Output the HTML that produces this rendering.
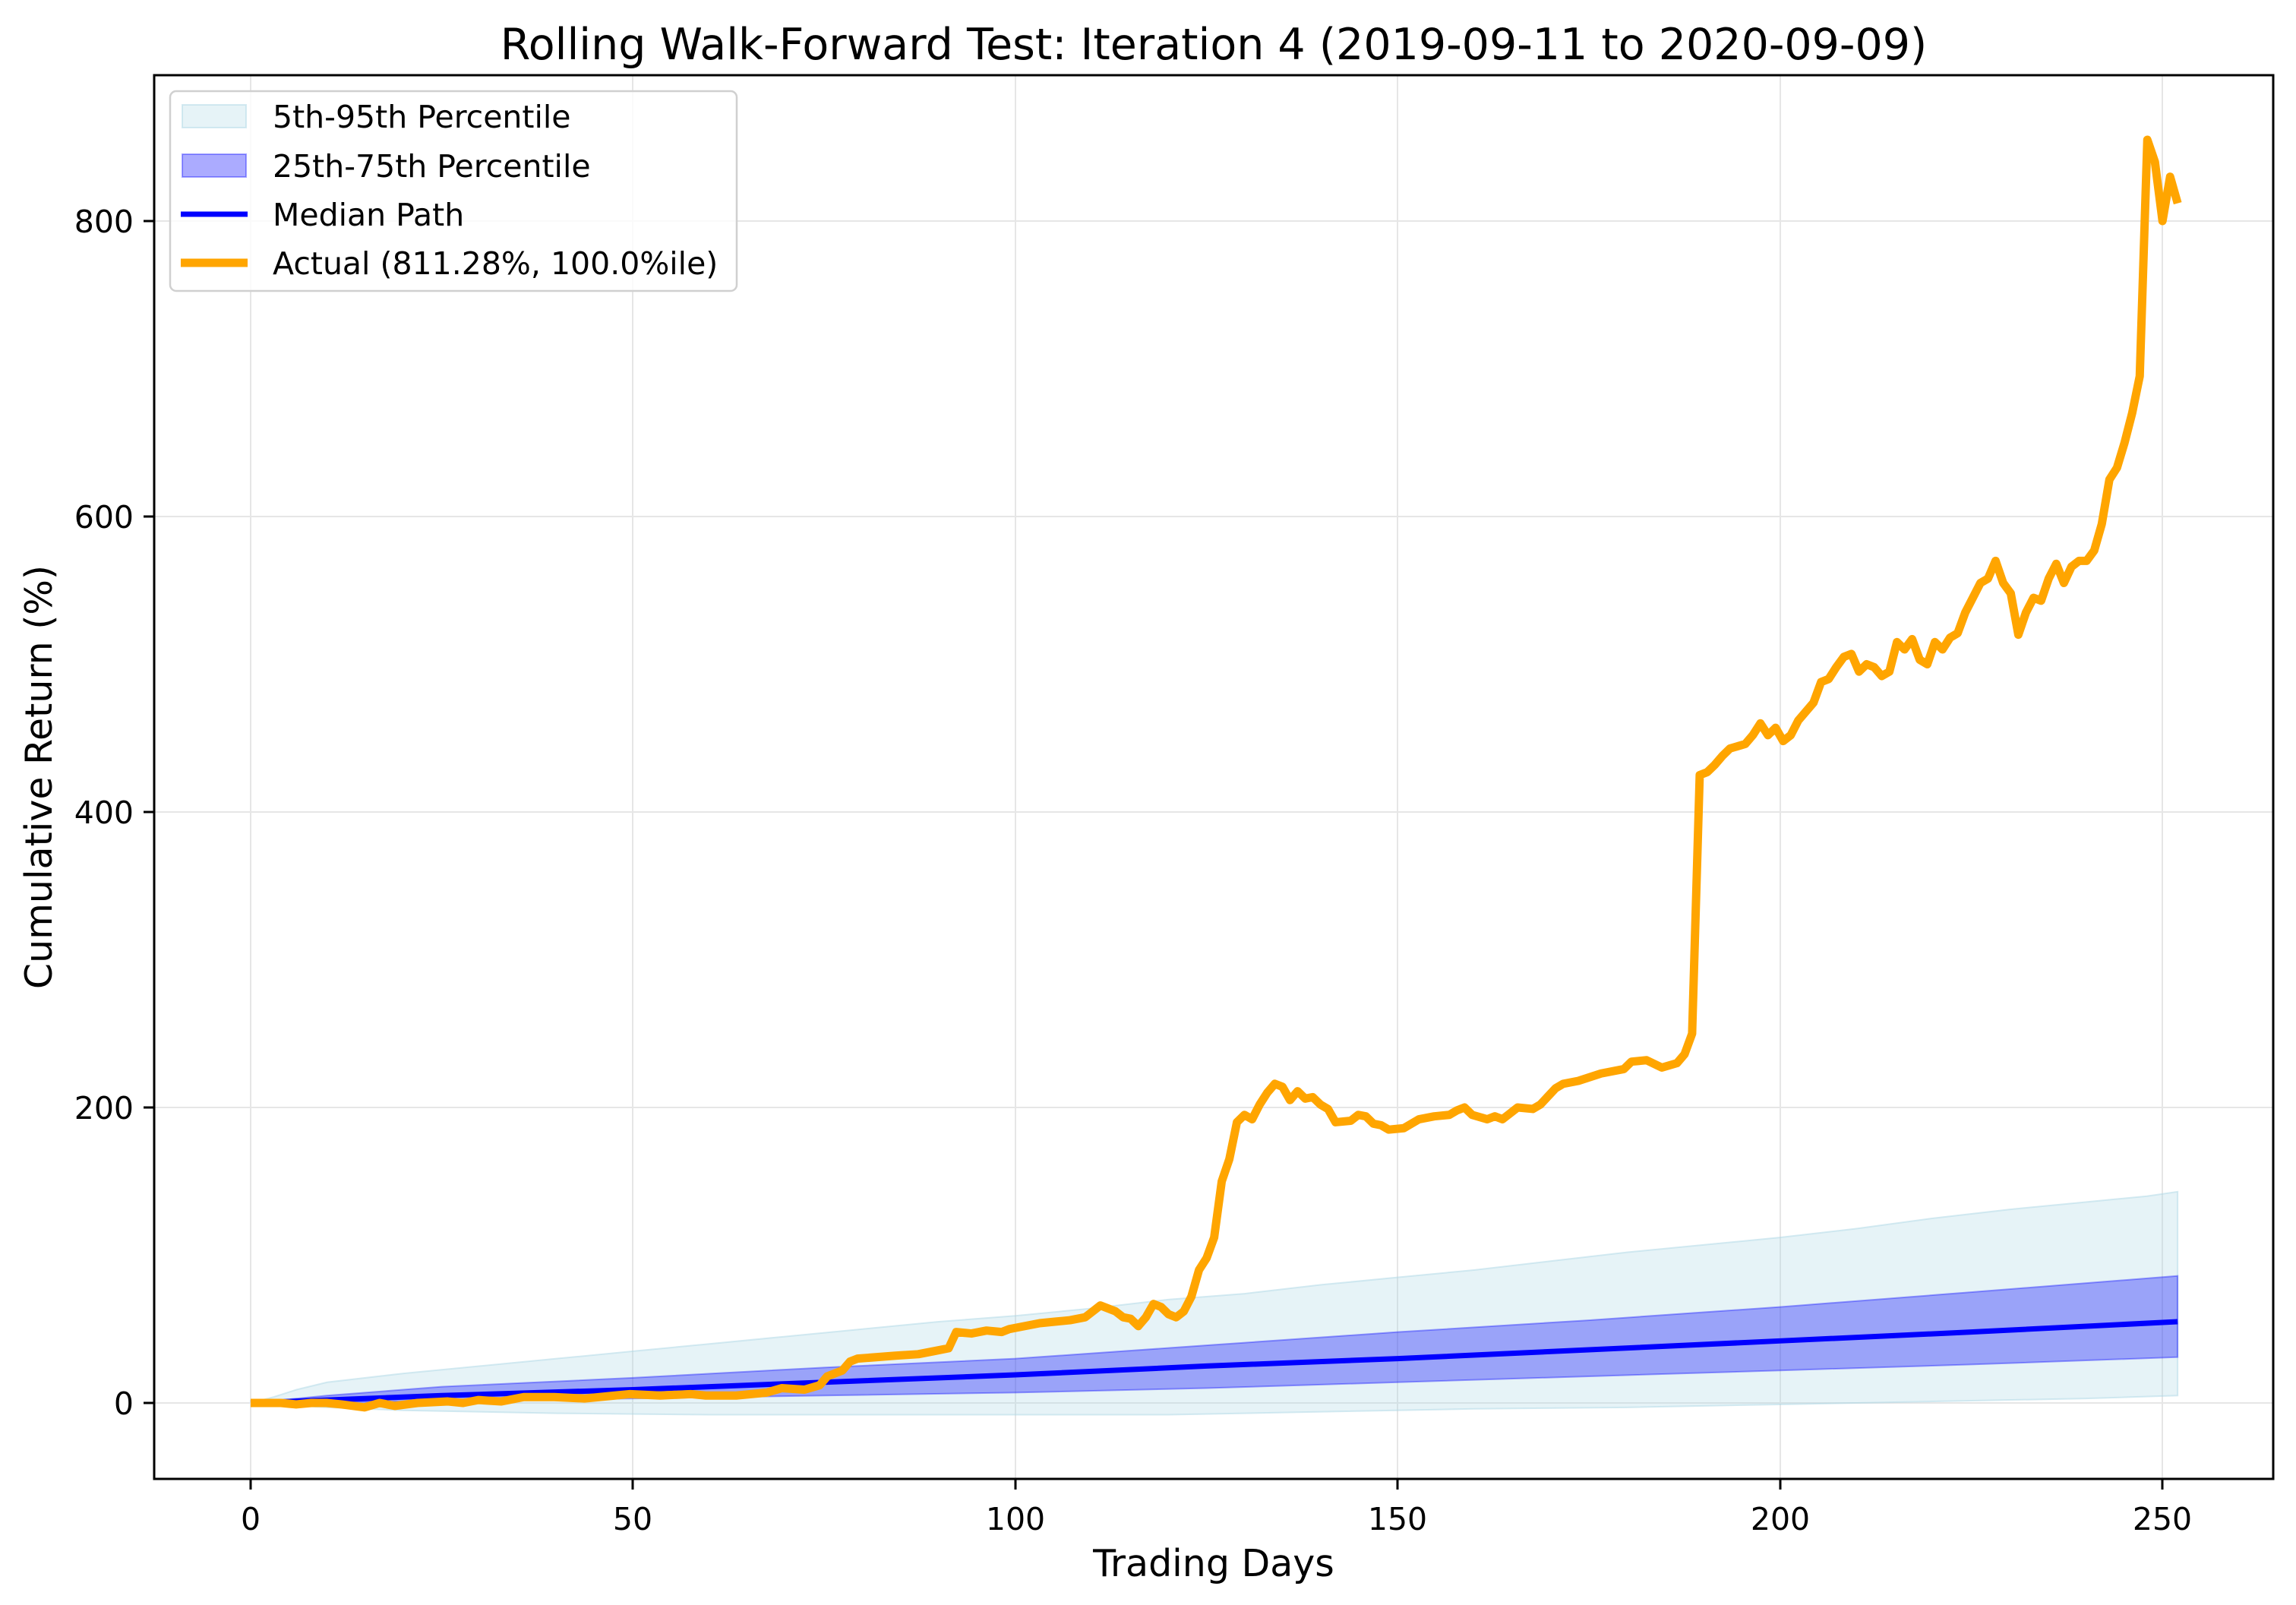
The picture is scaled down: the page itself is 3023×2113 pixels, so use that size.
<!DOCTYPE html>
<html><head><meta charset="utf-8"><style>
html,body{margin:0;padding:0;background:#fff}
svg{display:block;font-family:"DejaVu Sans","Liberation Sans",sans-serif}
</style></head><body>
<svg width="3023" height="2113" viewBox="0 0 3023 2113" xmlns="http://www.w3.org/2000/svg">
<rect width="3023" height="2113" fill="#fff"/>
<g stroke="#e6e6e6" stroke-width="2">
<line x1="330" y1="99" x2="330" y2="1947"/><line x1="833" y1="99" x2="833" y2="1947"/>
<line x1="1337" y1="99" x2="1337" y2="1947"/><line x1="1840" y1="99" x2="1840" y2="1947"/>
<line x1="2344" y1="99" x2="2344" y2="1947"/><line x1="2847" y1="99" x2="2847" y2="1947"/>
<line x1="203" y1="1847" x2="2993" y2="1847"/><line x1="203" y1="1458" x2="2993" y2="1458"/>
<line x1="203" y1="1069" x2="2993" y2="1069"/><line x1="203" y1="680" x2="2993" y2="680"/>
<line x1="203" y1="291" x2="2993" y2="291"/>
</g>
<g transform="translate(330,1847) scale(10.068,-1.945)">
<polygon fill="#add8e6" fill-opacity="0.3" stroke="#add8e6" stroke-opacity="0.5" stroke-width="2" vector-effect="non-scaling-stroke"
points="0,0 3,4 6,9 10,14 20,20 30,25 40,30 50,35 60,40 70,45 80,50 90,55 100,59 110,64 120,70 130,74 140,80 150,85 160,90 170,96 180,102 190,107 200,112 210,118 220,125 230,131 240,136 248,140 252,143 252,5 240,3 220,1 200,-1 180,-3 160,-4 140,-6 120,-8 100,-8 80,-8 60,-8 40,-7 20,-5 10,-3 3,-1"/>
<polygon fill="#0000ff" fill-opacity="0.33" stroke="#0000ff" stroke-opacity="0.35" stroke-width="2" vector-effect="non-scaling-stroke"
points="0,0 10,5 25,11 50,17 75,24 100,30 125,39 150,48 175,56 200,65 225,75 252,86 252,31 225,26 200,22 175,18 150,14 125,10 100,7 75,5 50,3 25,1"/>
<polyline fill="none" stroke="#0000ff" stroke-width="7" vector-effect="non-scaling-stroke"
points="0,0 25,5 50,9 75,14 100,19 125,25 150,30 175,36 200,42 225,48 252,55"/>
</g>
<g transform="translate(330,1847) scale(9.989,-1.945)">
<polyline fill="none" stroke="#ffa500" stroke-width="11" stroke-linejoin="round" vector-effect="non-scaling-stroke"
points="0,0 4,0 6,-1 8,0 10,0 12,-1 15,-3 17,0 19,-2 22,0 26,1 28,0 30,2 33,1 36,4 40,4 44,3 48,5 50,6 54,5 58,6 60,5 64,5 68,7 70,10 73,9 75,12 76,18 78,22 79,28 80,30 85,32 88,33 90,35 92,37 93,48 95,47 97,49 99,48 100,50 102,52 104,54 106,55 108,56 110,58 111,62 112,66 114,62 115,58 116,57 117,52 118,58 119,67 120,65 121,60 122,58 123,62 124,72 125,90 126,98 127,112 128,150 129,165 130,190 131,195 132,192 133,202 134,210 135,216 136,214 137,205 138,211 139,206 140,207 141,202 142,199 143,190 145,191 146,195 147,194 148,189 149,188 150,185 152,186 154,192 156,194 158,195 159,198 160,200 161,195 163,192 164,194 165,192 166,196 167,200 169,199 170,202 172,213 173,216 175,218 178,223 181,226 182,231 184,232 186,227 188,230 189,236 190,250 191,425 192,427 193,432 194,438 195,443 197,446 198,452 199,460 200,452 201,457 202,448 203,452 204,462 206,474 207,488 208,490 209,498 210,505 211,507 212,495 213,500 214,498 215,492 216,495 217,515 218,510 219,517 220,503 221,500 222,515 223,510 224,518 225,521 226,535 227,545 228,555 229,558 230,570 231,555 232,548 233,520 234,535 235,545 236,543 237,558 238,568 239,555 240,566 241,570 242,570 243,577 244,595 245,625 246,633 247,650 248,670 249,695 250,855 251,840 252,800 253,830 254,812"/>
</g>
<rect x="203" y="99" width="2790" height="1848" fill="none" stroke="#000" stroke-width="3"/>
<g stroke="#000" stroke-width="3">
<line x1="330" y1="1947" x2="330" y2="1961"/><line x1="833" y1="1947" x2="833" y2="1961"/>
<line x1="1337" y1="1947" x2="1337" y2="1961"/><line x1="1840" y1="1947" x2="1840" y2="1961"/>
<line x1="2344" y1="1947" x2="2344" y2="1961"/><line x1="2847" y1="1947" x2="2847" y2="1961"/>
<line x1="189" y1="1847" x2="203" y2="1847"/><line x1="189" y1="1458" x2="203" y2="1458"/>
<line x1="189" y1="1069" x2="203" y2="1069"/><line x1="189" y1="680" x2="203" y2="680"/>
<line x1="189" y1="291" x2="203" y2="291"/>
</g>
<g font-size="41" fill="#000" text-anchor="middle">
<text x="330" y="2014">0</text><text x="833" y="2014">50</text><text x="1337" y="2014">100</text>
<text x="1840" y="2014">150</text><text x="2344" y="2014">200</text><text x="2847" y="2014">250</text>
</g>
<g font-size="41" fill="#000" text-anchor="end">
<text x="176" y="1862">0</text><text x="176" y="1473">200</text><text x="176" y="1084">400</text>
<text x="176" y="695">600</text><text x="176" y="306">800</text>
</g>
<text x="1598" y="2075" font-size="49" text-anchor="middle">Trading Days</text>
<text transform="translate(68,1023) rotate(-90)" font-size="49" text-anchor="middle">Cumulative Return (%)</text>
<text x="1598" y="78" font-size="57" text-anchor="middle">Rolling Walk-Forward Test: Iteration 4 (2019-09-11 to 2020-09-09)</text>
<rect x="224" y="120" width="746" height="263" rx="8" fill="#fff" fill-opacity="0.8" stroke="#d0d0d0" stroke-width="2.5"/>
<rect x="240" y="138" width="84" height="30" fill="#add8e6" fill-opacity="0.3" stroke="#add8e6" stroke-opacity="0.5" stroke-width="2"/>
<rect x="240" y="203" width="84" height="30" fill="#0000ff" fill-opacity="0.33" stroke="#0000ff" stroke-opacity="0.35" stroke-width="2"/>
<line x1="238" y1="282" x2="326" y2="282" stroke="#0000ff" stroke-width="7"/>
<line x1="238" y1="346" x2="326" y2="346" stroke="#ffa500" stroke-width="11"/>
<g font-size="41" fill="#000">
<text x="359" y="168">5th-95th Percentile</text>
<text x="359" y="233">25th-75th Percentile</text>
<text x="359" y="297">Median Path</text>
<text x="359" y="361">Actual (811.28%, 100.0%ile)</text>
</g>
</svg>
</body></html>
